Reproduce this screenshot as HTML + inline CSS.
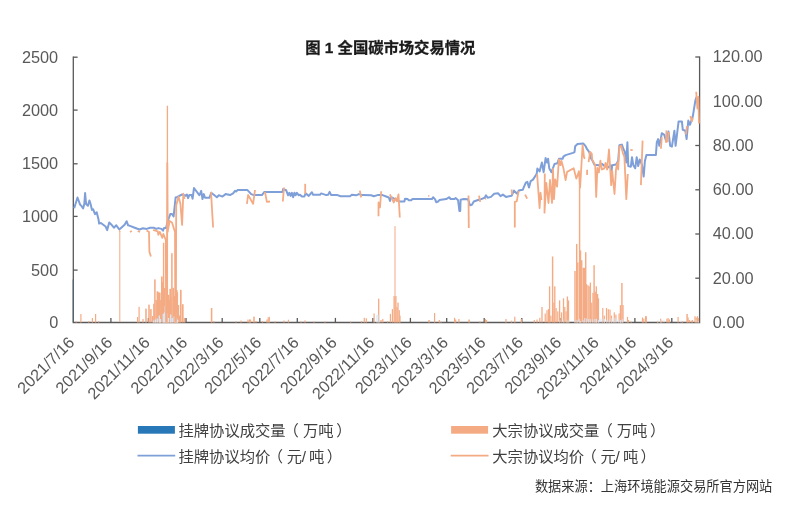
<!DOCTYPE html>
<html lang="zh"><head><meta charset="utf-8"><title>图 1 全国碳市场交易情况</title>
<style>html,body{margin:0;padding:0;background:#fff}body{width:800px;height:506px;overflow:hidden}svg{display:block}text{font-family:"Liberation Sans","Noto Sans CJK SC",sans-serif}</style></head><body>
<svg width="800" height="506" viewBox="0 0 800 506">
<rect width="800" height="506" fill="#fff"/>
<text x="390.3" y="52.6" text-anchor="middle" font-size="15.3" font-weight="bold" fill="#1a1a1a" stroke="#1a1a1a" stroke-width="0.3">图 1 全国碳市场交易情况</text>
<rect x="72.1" y="279.4" width="1.2" height="43" fill="#b4cbe9"/>
<g stroke="#595959" stroke-width="1.3" fill="none">
<path d="M73.3 56.5 V322.5 H699.6 V56.5"/>
<path d="M73.3 270.1 h4.3"/>
<path d="M73.3 216.4 h4.3"/>
<path d="M73.3 163.8 h4.3"/>
<path d="M73.3 110.1 h4.3"/>
<path d="M73.3 57.2 h4.3"/>
<path d="M699.6 278.2 h-4.3"/>
<path d="M699.6 234.0 h-4.3"/>
<path d="M699.6 189.8 h-4.3"/>
<path d="M699.6 145.5 h-4.3"/>
<path d="M699.6 101.2 h-4.3"/>
<path d="M699.6 57.0 h-4.3"/>
<path d="M110.9 322.5 v-4.6"/>
<path d="M148.4 322.5 v-4.6"/>
<path d="M186.0 322.5 v-4.6"/>
<path d="M222.2 322.5 v-4.6"/>
<path d="M259.8 322.5 v-4.6"/>
<path d="M297.3 322.5 v-4.6"/>
<path d="M335.4 322.5 v-4.6"/>
<path d="M372.9 322.5 v-4.6"/>
<path d="M410.4 322.5 v-4.6"/>
<path d="M446.7 322.5 v-4.6"/>
<path d="M484.2 322.5 v-4.6"/>
<path d="M521.8 322.5 v-4.6"/>
<path d="M559.9 322.5 v-4.6"/>
<path d="M597.4 322.5 v-4.6"/>
<path d="M634.9 322.5 v-4.6"/>
<path d="M671.8 322.5 v-4.6"/>
</g>
<g fill="#f4ab84">
<rect x="75.60" y="321.0" width="1.20" height="1.5"/>
<rect x="80.30" y="314.0" width="1.20" height="8.5"/>
<rect x="88.10" y="321.0" width="1.20" height="1.5"/>
<rect x="91.80" y="318.0" width="1.20" height="4.5"/>
<rect x="95.00" y="314.0" width="1.20" height="8.5"/>
<rect x="98.00" y="321.0" width="1.20" height="1.5"/>
<rect x="137.00" y="317.0" width="1.20" height="5.5"/>
<rect x="138.50" y="306.8" width="1.20" height="15.7"/>
<rect x="142.40" y="319.0" width="1.20" height="3.5"/>
<rect x="145.22" y="308.6" width="1.56" height="13.9"/>
<rect x="148.22" y="304.6" width="1.56" height="17.9"/>
<rect x="150.12" y="309.1" width="1.56" height="13.4"/>
<rect x="151.90" y="316.0" width="1.20" height="6.5"/>
<rect x="153.12" y="303.7" width="1.56" height="18.8"/>
<rect x="154.12" y="279.4" width="1.56" height="43.1"/>
<rect x="155.48" y="300.0" width="1.44" height="22.5"/>
<rect x="156.56" y="291.3" width="1.68" height="31.2"/>
<rect x="157.96" y="292.3" width="1.68" height="30.2"/>
<rect x="159.02" y="292.8" width="1.56" height="29.7"/>
<rect x="160.08" y="300.0" width="1.44" height="22.5"/>
<rect x="160.96" y="276.5" width="1.68" height="46.0"/>
<rect x="162.02" y="282.0" width="1.56" height="40.5"/>
<rect x="162.88" y="242.8" width="1.44" height="79.7"/>
<rect x="163.88" y="288.0" width="1.44" height="34.5"/>
<rect x="166.74" y="105.7" width="1.32" height="216.8"/>
<rect x="167.86" y="294.8" width="1.68" height="27.7"/>
<rect x="168.78" y="300.0" width="1.44" height="22.5"/>
<rect x="169.36" y="288.8" width="1.68" height="33.7"/>
<rect x="170.28" y="297.0" width="1.44" height="25.5"/>
<rect x="171.12" y="253.2" width="1.56" height="69.3"/>
<rect x="172.36" y="287.8" width="1.68" height="34.7"/>
<rect x="173.58" y="296.0" width="1.44" height="26.5"/>
<rect x="176.02" y="290.0" width="1.56" height="32.5"/>
<rect x="176.52" y="292.3" width="1.56" height="30.2"/>
<rect x="177.78" y="305.0" width="1.44" height="17.5"/>
<rect x="178.88" y="315.5" width="1.44" height="7.0"/>
<rect x="179.96" y="289.8" width="1.68" height="32.7"/>
<rect x="181.96" y="304.2" width="1.68" height="18.3"/>
<rect x="183.72" y="318.0" width="1.56" height="4.5"/>
<rect x="210.82" y="308.0" width="1.56" height="14.5"/>
<rect x="213.40" y="321.0" width="1.20" height="1.5"/>
<rect x="235.40" y="321.0" width="1.20" height="1.5"/>
<rect x="240.40" y="320.5" width="1.20" height="2.0"/>
<rect x="247.40" y="319.5" width="1.20" height="3.0"/>
<rect x="248.90" y="319.5" width="1.20" height="3.0"/>
<rect x="249.90" y="319.5" width="1.20" height="3.0"/>
<rect x="253.22" y="316.6" width="1.56" height="5.9"/>
<rect x="255.40" y="321.0" width="1.20" height="1.5"/>
<rect x="261.90" y="321.0" width="1.20" height="1.5"/>
<rect x="266.40" y="319.5" width="1.20" height="3.0"/>
<rect x="267.60" y="317.4" width="1.20" height="5.1"/>
<rect x="268.70" y="316.8" width="1.20" height="5.7"/>
<rect x="274.40" y="321.3" width="1.20" height="1.2"/>
<rect x="283.40" y="320.5" width="1.20" height="2.0"/>
<rect x="287.80" y="319.7" width="1.20" height="2.8"/>
<rect x="300.40" y="321.3" width="1.20" height="1.2"/>
<rect x="304.40" y="320.4" width="1.20" height="2.1"/>
<rect x="313.40" y="321.5" width="1.20" height="1.0"/>
<rect x="324.40" y="321.5" width="1.20" height="1.0"/>
<rect x="350.10" y="321.5" width="1.20" height="1.0"/>
<rect x="360.90" y="321.2" width="1.20" height="1.3"/>
<rect x="363.70" y="317.8" width="1.20" height="4.7"/>
<rect x="365.70" y="318.2" width="1.20" height="4.3"/>
<rect x="373.50" y="313.5" width="1.20" height="9.0"/>
<rect x="378.04" y="298.7" width="1.32" height="23.8"/>
<rect x="380.40" y="320.0" width="1.20" height="2.5"/>
<rect x="382.20" y="319.0" width="1.20" height="3.5"/>
<rect x="387.00" y="321.0" width="1.20" height="1.5"/>
<rect x="389.80" y="313.9" width="1.20" height="8.6"/>
<rect x="391.80" y="309.1" width="1.20" height="13.4"/>
<rect x="393.44" y="296.1" width="1.32" height="26.4"/>
<rect x="394.49" y="226.1" width="1.02" height="96.4"/>
<rect x="395.24" y="296.1" width="1.32" height="26.4"/>
<rect x="396.40" y="307.0" width="1.20" height="15.5"/>
<rect x="397.34" y="302.6" width="1.32" height="19.9"/>
<rect x="398.70" y="310.2" width="1.20" height="12.3"/>
<rect x="399.40" y="315.6" width="1.20" height="6.9"/>
<rect x="428.28" y="320.0" width="1.44" height="2.5"/>
<rect x="434.00" y="313.0" width="1.20" height="9.5"/>
<rect x="438.70" y="320.0" width="1.20" height="2.5"/>
<rect x="440.40" y="321.5" width="1.20" height="1.0"/>
<rect x="454.00" y="317.8" width="1.20" height="4.7"/>
<rect x="455.10" y="319.5" width="1.20" height="3.0"/>
<rect x="458.30" y="319.0" width="1.20" height="3.5"/>
<rect x="468.38" y="319.5" width="1.44" height="3.0"/>
<rect x="479.40" y="321.3" width="1.20" height="1.2"/>
<rect x="484.80" y="319.0" width="1.20" height="3.5"/>
<rect x="485.90" y="320.0" width="1.20" height="2.5"/>
<rect x="505.40" y="319.0" width="1.20" height="3.5"/>
<rect x="510.90" y="320.7" width="1.20" height="1.8"/>
<rect x="514.20" y="316.7" width="1.20" height="5.8"/>
<rect x="520.70" y="319.0" width="1.20" height="3.5"/>
<rect x="533.70" y="320.0" width="1.20" height="2.5"/>
<rect x="536.40" y="319.5" width="1.20" height="3.0"/>
<rect x="539.20" y="317.8" width="1.20" height="4.7"/>
<rect x="541.34" y="307.0" width="1.32" height="15.5"/>
<rect x="544.60" y="313.5" width="1.20" height="9.0"/>
<rect x="546.40" y="310.2" width="1.20" height="12.3"/>
<rect x="547.90" y="309.1" width="1.20" height="13.4"/>
<rect x="548.94" y="286.3" width="1.32" height="36.2"/>
<rect x="550.30" y="315.6" width="1.20" height="6.9"/>
<rect x="551.88" y="256.5" width="1.44" height="66.0"/>
<rect x="553.30" y="302.6" width="1.20" height="19.9"/>
<rect x="554.14" y="286.3" width="1.32" height="36.2"/>
<rect x="555.50" y="308.0" width="1.20" height="14.5"/>
<rect x="557.20" y="311.3" width="1.20" height="11.2"/>
<rect x="558.94" y="300.4" width="1.32" height="22.1"/>
<rect x="560.90" y="312.4" width="1.20" height="10.1"/>
<rect x="562.84" y="298.3" width="1.32" height="24.2"/>
<rect x="564.20" y="307.0" width="1.20" height="15.5"/>
<rect x="565.50" y="311.3" width="1.20" height="11.2"/>
<rect x="566.74" y="296.5" width="1.32" height="26.0"/>
<rect x="567.84" y="300.4" width="1.32" height="22.1"/>
<rect x="574.28" y="271.0" width="1.44" height="51.5"/>
<rect x="575.98" y="243.9" width="1.44" height="78.6"/>
<rect x="577.08" y="262.4" width="1.44" height="60.1"/>
<rect x="578.88" y="180.0" width="1.44" height="142.5"/>
<rect x="579.78" y="250.4" width="1.44" height="72.1"/>
<rect x="580.98" y="260.2" width="1.44" height="62.3"/>
<rect x="582.58" y="267.8" width="1.44" height="54.7"/>
<rect x="583.58" y="267.8" width="1.44" height="54.7"/>
<rect x="584.98" y="252.2" width="1.44" height="70.3"/>
<rect x="585.84" y="284.1" width="1.32" height="38.4"/>
<rect x="587.34" y="285.2" width="1.32" height="37.3"/>
<rect x="588.44" y="286.3" width="1.32" height="36.2"/>
<rect x="589.74" y="282.6" width="1.32" height="39.9"/>
<rect x="591.10" y="302.6" width="1.20" height="19.9"/>
<rect x="592.34" y="292.8" width="1.32" height="29.7"/>
<rect x="593.38" y="265.2" width="1.44" height="57.3"/>
<rect x="594.54" y="291.7" width="1.32" height="30.8"/>
<rect x="595.64" y="286.3" width="1.32" height="36.2"/>
<rect x="596.94" y="294.0" width="1.32" height="28.5"/>
<rect x="597.90" y="298.3" width="1.20" height="24.2"/>
<rect x="602.20" y="308.0" width="1.20" height="14.5"/>
<rect x="603.70" y="315.6" width="1.20" height="6.9"/>
<rect x="605.90" y="308.0" width="1.20" height="14.5"/>
<rect x="607.70" y="309.1" width="1.20" height="13.4"/>
<rect x="609.40" y="309.6" width="1.20" height="12.9"/>
<rect x="610.90" y="315.6" width="1.20" height="6.9"/>
<rect x="613.70" y="312.4" width="1.20" height="10.1"/>
<rect x="615.30" y="314.6" width="1.20" height="7.9"/>
<rect x="618.50" y="313.5" width="1.20" height="9.0"/>
<rect x="619.74" y="305.2" width="1.32" height="17.3"/>
<rect x="621.18" y="283.0" width="1.44" height="39.5"/>
<rect x="622.34" y="305.0" width="1.32" height="17.5"/>
<rect x="626.90" y="316.9" width="1.20" height="5.6"/>
<rect x="627.90" y="320.0" width="1.20" height="2.5"/>
<rect x="630.60" y="321.5" width="1.20" height="1.0"/>
<rect x="641.90" y="317.5" width="1.20" height="5.0"/>
<rect x="643.20" y="318.7" width="1.20" height="3.8"/>
<rect x="645.00" y="316.2" width="1.20" height="6.3"/>
<rect x="645.70" y="316.2" width="1.20" height="6.3"/>
<rect x="656.90" y="321.2" width="1.20" height="1.3"/>
<rect x="660.00" y="318.7" width="1.20" height="3.8"/>
<rect x="661.30" y="320.6" width="1.20" height="1.9"/>
<rect x="666.30" y="318.7" width="1.20" height="3.8"/>
<rect x="667.50" y="318.1" width="1.20" height="4.4"/>
<rect x="668.80" y="319.4" width="1.20" height="3.1"/>
<rect x="677.50" y="316.9" width="1.20" height="5.6"/>
<rect x="681.90" y="321.2" width="1.20" height="1.3"/>
<rect x="686.38" y="314.0" width="1.44" height="8.5"/>
<rect x="687.50" y="317.5" width="1.20" height="5.0"/>
<rect x="688.80" y="320.0" width="1.20" height="2.5"/>
<rect x="690.60" y="320.6" width="1.20" height="1.9"/>
<rect x="691.90" y="320.0" width="1.20" height="2.5"/>
<rect x="694.40" y="316.2" width="1.20" height="6.3"/>
<rect x="695.60" y="317.5" width="1.20" height="5.0"/>
<rect x="696.90" y="316.2" width="1.20" height="6.3"/>
<rect x="697.90" y="318.1" width="1.20" height="4.4"/>
</g>
<g fill="#d9e7f5">
<rect x="152.95" y="320.5" width="1.3" height="2.0" opacity="1.00"/>
<rect x="154.85" y="319.5" width="1.3" height="3.0" opacity="1.00"/>
<rect x="156.65" y="318.5" width="1.3" height="4.0" opacity="1.00"/>
<rect x="158.65" y="315.5" width="1.3" height="7.0" opacity="1.00"/>
<rect x="159.85" y="319.0" width="1.3" height="3.5" opacity="1.00"/>
<rect x="162.65" y="314.0" width="1.3" height="8.5" opacity="1.00"/>
<rect x="163.65" y="312.5" width="1.3" height="10.0" opacity="1.00"/>
<rect x="164.65" y="306.0" width="1.3" height="16.5" opacity="1.00"/>
<rect x="165.65" y="313.5" width="1.3" height="9.0" opacity="1.00"/>
<rect x="166.65" y="313.5" width="1.3" height="9.0" opacity="1.00"/>
<rect x="167.85" y="318.0" width="1.3" height="4.5" opacity="1.00"/>
<rect x="170.05" y="314.5" width="1.3" height="8.0" opacity="1.00"/>
<rect x="171.65" y="318.0" width="1.3" height="4.5" opacity="1.00"/>
<rect x="173.55" y="316.5" width="1.3" height="6.0" opacity="1.00"/>
<rect x="175.05" y="311.6" width="1.3" height="10.9" opacity="1.00"/>
<rect x="176.15" y="318.5" width="1.3" height="4.0" opacity="1.00"/>
<rect x="176.95" y="320.0" width="1.3" height="2.5" opacity="1.00"/>
<rect x="376.20" y="314.6" width="1.0" height="7.9" opacity="0.80"/>
<rect x="377.30" y="314.6" width="1.0" height="7.9" opacity="0.80"/>
<rect x="378.70" y="314.6" width="1.0" height="7.9" opacity="0.80"/>
<rect x="574.45" y="320.3" width="1.1" height="2.2" opacity="0.90"/>
<rect x="576.50" y="319.9" width="1.1" height="2.6" opacity="0.90"/>
<rect x="578.63" y="319.1" width="1.1" height="3.4" opacity="0.90"/>
<rect x="580.11" y="321.0" width="1.1" height="1.5" opacity="0.90"/>
<rect x="582.51" y="320.2" width="1.1" height="2.3" opacity="0.90"/>
<rect x="584.19" y="318.0" width="1.1" height="4.5" opacity="0.90"/>
<rect x="586.16" y="318.5" width="1.1" height="4.0" opacity="0.90"/>
<rect x="588.13" y="319.1" width="1.1" height="3.4" opacity="0.90"/>
<rect x="589.71" y="319.1" width="1.1" height="3.4" opacity="0.90"/>
<rect x="592.15" y="319.4" width="1.1" height="3.1" opacity="0.90"/>
<rect x="594.44" y="319.0" width="1.1" height="3.5" opacity="0.90"/>
<rect x="595.92" y="318.7" width="1.1" height="3.8" opacity="0.90"/>
<rect x="598.03" y="320.1" width="1.1" height="2.4" opacity="0.90"/>
<rect x="599.46" y="318.4" width="1.1" height="4.1" opacity="0.90"/>
<rect x="601.43" y="318.8" width="1.1" height="3.7" opacity="0.90"/>
<rect x="603.89" y="318.9" width="1.1" height="3.6" opacity="0.90"/>
<rect x="606.39" y="319.8" width="1.1" height="2.7" opacity="0.90"/>
<rect x="608.75" y="319.7" width="1.1" height="2.8" opacity="0.90"/>
<rect x="611.27" y="318.4" width="1.1" height="4.1" opacity="0.90"/>
<rect x="612.79" y="320.6" width="1.1" height="1.9" opacity="0.90"/>
<rect x="614.45" y="318.1" width="1.1" height="4.4" opacity="0.90"/>
<rect x="616.38" y="319.1" width="1.1" height="3.4" opacity="0.90"/>
<rect x="618.14" y="319.5" width="1.1" height="3.0" opacity="0.90"/>
<rect x="620.00" y="319.9" width="1.1" height="2.6" opacity="0.90"/>
<rect x="622.10" y="319.2" width="1.1" height="3.3" opacity="0.90"/>
<rect x="559.50" y="320.1" width="1.0" height="2.4" opacity="0.70"/>
<rect x="562.50" y="319.6" width="1.0" height="2.9" opacity="0.70"/>
<rect x="566.50" y="319.8" width="1.0" height="2.7" opacity="0.70"/>
<rect x="568.50" y="319.5" width="1.0" height="3.0" opacity="0.70"/>
<rect x="620.50" y="320.2" width="1.0" height="2.3" opacity="0.70"/>
<rect x="625.50" y="321.2" width="1.0" height="1.3" opacity="0.70"/>
<rect x="657.50" y="319.8" width="1.0" height="2.7" opacity="0.70"/>
<rect x="660.50" y="319.6" width="1.0" height="2.9" opacity="0.70"/>
<rect x="663.50" y="319.7" width="1.0" height="2.8" opacity="0.70"/>
<rect x="680.50" y="320.4" width="1.0" height="2.1" opacity="0.70"/>
<rect x="695.50" y="320.1" width="1.0" height="2.4" opacity="0.70"/>
<rect x="697.80" y="321.1" width="1.0" height="1.4" opacity="0.70"/>
</g>
<polyline fill="none" stroke="#7f9fd9" stroke-width="2" stroke-linejoin="round" transform="translate(0,0.3)" points="74.2,207.9 77.5,197.2 80.1,204.3 81.3,205.5 83.1,208.2 84.3,203.7 85.1,192.8 86.1,203.7 87.9,205.5 89.4,200.1 90.6,203.7 92.0,209.6 93.2,209.0 95.0,213.8 96.7,212.0 98.5,219.1 99.1,223.3 100.9,222.7 105.6,226.2 107.2,229.8 109.2,222.1 111.0,223.9 113.9,227.4 116.3,225.0 119.3,229.2 124.6,224.4 126.6,220.9 128.1,225.0 130.0,225.6 134.7,227.4 139.5,229.2 143.0,228.0 146.6,228.6 150.1,227.4 153.7,227.4 156.1,228.6 158.4,227.8 161.4,228.6 163.0,230.4 163.8,228.0 166.1,227.4 167.9,220.3 170.3,213.8 172.1,213.8 173.6,216.1 175.6,197.2 177.4,196.6 182.1,194.2 185.7,195.4 186.9,194.2 188.1,197.8 189.3,194.8 191.6,194.8 192.6,198.4 194.0,187.7 199.3,194.8 200.0,193.8 201.2,190.6 202.5,198.8 203.8,193.8 205.0,197.5 209.4,197.5 211.2,192.5 213.8,194.4 216.9,196.9 218.8,195.0 220.6,195.6 222.5,196.2 225.6,193.8 230.0,194.8 233.1,193.1 235.0,190.6 236.2,191.2 237.5,189.8 247.5,189.8 251.2,193.8 253.8,194.8 261.9,194.8 264.4,191.6 282.5,191.6 283.1,188.8 286.2,190.0 288.1,195.0 289.4,192.5 290.6,195.6 291.9,192.5 293.1,196.9 294.4,192.5 295.6,195.0 296.9,192.5 298.8,195.0 300.0,194.4 301.9,196.2 304.4,196.2 305.6,193.1 308.8,195.6 311.9,191.9 313.1,194.4 320.0,194.4 321.2,193.1 326.2,194.8 328.1,194.4 329.6,191.6 331.2,194.8 337.5,194.8 340.6,196.0 350.0,196.0 351.9,194.4 356.2,195.0 358.8,193.8 362.5,194.8 371.2,195.0 373.8,195.9 377.5,194.8 382.5,194.8 386.2,196.2 388.8,197.2 390.0,200.6 391.2,196.9 395.0,198.8 399.4,201.2 404.4,201.2 405.0,198.5 407.5,198.8 408.8,200.0 411.2,200.0 412.5,198.8 431.9,198.8 433.1,196.9 435.0,198.8 436.2,201.9 438.1,201.2 439.4,199.8 446.2,198.8 449.4,196.9 450.6,198.8 454.4,198.8 455.6,197.8 458.1,200.0 459.4,210.6 460.2,210.6 460.6,199.4 463.8,198.8 468.1,199.0 470.0,205.0 471.9,204.4 473.8,201.2 478.8,199.4 481.2,198.8 484.7,197.4 486.0,195.0 487.6,197.4 491.0,196.6 494.2,193.5 498.2,193.0 500.5,195.8 502.9,194.3 506.0,196.6 511.6,195.4 514.0,190.3 515.6,191.9 517.2,193.5 518.7,190.3 522.7,189.5 525.8,182.4 527.4,181.6 529.0,187.2 530.7,180.8 533.0,179.3 536.7,173.4 537.4,168.2 539.6,171.1 541.9,162.2 543.6,171.9 545.6,157.8 547.0,162.2 548.1,158.5 549.3,168.2 551.5,171.9 554.5,163.7 557.4,163.0 558.9,158.5 562.6,158.5 563.4,156.3 565.6,154.8 573.0,152.6 574.5,151.9 575.2,145.9 577.5,143.7 583.4,143.3 585.6,145.9 587.1,148.9 589.3,151.9 590.8,157.8 592.3,160.0 594.5,164.5 598.9,165.0 601.9,163.6 604.8,165.8 607.8,167.3 610.8,165.0 611.5,171.0 612.2,165.0 616.0,164.3 618.2,160.6 619.4,145.0 621.9,144.3 623.4,148.7 624.9,151.7 626.3,162.1 627.4,142.0 628.3,165.8 630.8,166.5 632.0,156.9 633.3,165.0 635.2,168.0 636.7,156.9 638.2,165.8 639.7,159.1 641.9,164.3 643.7,176.2 644.9,160.6 646.4,154.7 655.9,154.7 656.8,142.1 658.1,138.8 659.3,145.5 660.9,137.9 661.8,132.9 664.3,134.6 666.0,140.4 668.5,131.2 670.2,145.5 671.9,146.3 674.4,130.4 675.6,145.5 678.6,121.1 681.9,121.1 682.8,129.5 685.3,130.4 686.6,138.8 688.3,120.3 690.0,124.5 692.8,116.1 695.4,100.1 696.6,96.5"/>
<g fill="none" stroke="#f4ab84" stroke-width="1.8" stroke-linejoin="round" stroke-linecap="butt">
<polyline points="119.2,231.5 120.2,230.8"/>
<polyline points="119.8,231.5 119.8,322.0" stroke-width="1"/>
<polyline points="130.0,232.0 131.8,231.0"/>
<polyline points="137.7,231.0 140.0,232.0"/>
<polyline points="146.6,230.4 149.0,232.0 149.4,251.7 150.9,256.6"/>
<polyline points="153.1,229.8 157.8,231.4 158.3,234.9 159.8,231.9 162.3,237.8 163.3,233.9 165.8,239.8 166.1,322.3 166.8,322.3 167.3,163.0 167.7,232.0 168.0,229.8 169.7,220.9 172.1,222.7 175.0,232.0 175.3,322.3 175.9,322.3 176.2,205.5 178.6,196.6 180.4,203.7 182.1,225.0 183.3,193.6 184.5,199.0"/>
<polyline points="211.0,191.9 213.1,227.5"/>
<polyline points="246.9,203.8 248.1,195.0 253.1,203.8 255.0,190.0"/>
<polyline points="265.0,191.9 266.9,201.9 270.0,201.5"/>
<polyline points="284.0,187.5 282.8,201.5"/>
<polyline points="305.2,183.8 305.2,193.8"/>
<polyline points="359.8,190.6 361.2,197.5"/>
<polyline points="378.5,216.2 378.5,202.5 380.0,207.5 381.2,191.2"/>
<polyline points="389.8,194.4 391.2,196.9 393.8,202.5 395.6,198.1 396.9,201.2 398.5,194.4 399.8,217.5"/>
<polyline points="428.2,195.9 429.3,195.9"/>
<polyline points="468.5,195.6 468.8,228.1"/>
<polyline points="479.0,195.6 480.2,201.9"/>
<polyline points="485.1,199.0 486.1,198.7"/>
<polyline points="511.6,189.5 512.1,194.7"/>
<polyline points="518.7,191.1 516.7,201.4 514.8,201.9 514.8,227.5"/>
<polyline points="525.1,194.6 527.1,198.7"/>
<polyline points="537.1,174.1 539.6,208.2 540.5,192.6 541.4,200.0"/>
<polyline points="544.8,173.4 544.5,212.7 546.3,183.0 548.5,203.0 550.0,180.0 552.0,203.0 553.0,169.0 554.0,199.3 555.2,179.3 557.1,186.7 558.9,159.3 560.4,165.2 561.4,160.8 563.4,168.2 565.6,180.0 567.1,171.9 573.7,168.2 576.3,178.6 577.8,174.9 578.9,171.1 580.1,187.5 582.6,145.2 584.1,157.8 585.2,158.5"/>
<polyline points="587.1,174.9 587.1,169.7"/>
<polyline points="588.6,162.2 590.1,151.9 591.8,153.9 592.2,159.9 595.2,165.0 596.2,196.9 597.4,168.0 598.9,172.5 600.4,160.6 601.9,169.5 604.1,168.7 605.6,162.8 607.1,169.5 609.0,149.5 611.2,185.1 612.2,171.0 614.5,194.0 616.0,169.5 617.4,162.8 618.2,169.5 619.4,146.5 621.1,145.8 622.9,153.2 624.4,156.9 626.3,199.2 627.8,174.0"/>
<polyline points="630.3,150.0 632.7,150.0"/>
<polyline points="642.6,140.6 640.9,185.1"/>
<polyline points="661.8,137.1 660.9,148.8"/>
<polyline points="666.5,130.4 666.0,142.1 667.7,141.3 668.8,132.0"/>
<polyline points="687.0,126.2 685.8,134.6"/>
<polyline points="690.3,116.1 692.0,121.1 692.8,117.8"/>
<polyline points="696.2,91.8 697.4,108.5 698.4,96.8 699.0,123.6"/>
</g>
<g font-size="16.3" fill="#595959">
<text x="58.2" y="328.0" text-anchor="end">0</text>
<text x="58.2" y="275.5" text-anchor="end">500</text>
<text x="58.2" y="221.8" text-anchor="end">1000</text>
<text x="58.2" y="169.2" text-anchor="end">1500</text>
<text x="58.2" y="115.5" text-anchor="end">2000</text>
<text x="58.2" y="62.6" text-anchor="end">2500</text>
<text x="712.8" y="327.9">0.00</text>
<text x="712.8" y="283.6">20.00</text>
<text x="712.8" y="239.4">40.00</text>
<text x="712.8" y="195.2">60.00</text>
<text x="712.8" y="150.9">80.00</text>
<text x="712.8" y="106.7">100.00</text>
<text x="712.8" y="62.4">120.00</text>
<text text-anchor="end" transform="translate(75.3,343.5) rotate(-45)">2021/7/16</text>
<text text-anchor="end" transform="translate(113.4,343.5) rotate(-45)">2021/9/16</text>
<text text-anchor="end" transform="translate(150.9,343.5) rotate(-45)">2021/11/16</text>
<text text-anchor="end" transform="translate(188.5,343.5) rotate(-45)">2022/1/16</text>
<text text-anchor="end" transform="translate(224.7,343.5) rotate(-45)">2022/3/16</text>
<text text-anchor="end" transform="translate(262.3,343.5) rotate(-45)">2022/5/16</text>
<text text-anchor="end" transform="translate(299.8,343.5) rotate(-45)">2022/7/16</text>
<text text-anchor="end" transform="translate(337.9,343.5) rotate(-45)">2022/9/16</text>
<text text-anchor="end" transform="translate(375.4,343.5) rotate(-45)">2022/11/16</text>
<text text-anchor="end" transform="translate(412.9,343.5) rotate(-45)">2023/1/16</text>
<text text-anchor="end" transform="translate(449.2,343.5) rotate(-45)">2023/3/16</text>
<text text-anchor="end" transform="translate(486.7,343.5) rotate(-45)">2023/5/16</text>
<text text-anchor="end" transform="translate(524.2,343.5) rotate(-45)">2023/7/16</text>
<text text-anchor="end" transform="translate(562.4,343.5) rotate(-45)">2023/9/16</text>
<text text-anchor="end" transform="translate(599.9,343.5) rotate(-45)">2023/11/16</text>
<text text-anchor="end" transform="translate(637.4,343.5) rotate(-45)">2024/1/16</text>
<text text-anchor="end" transform="translate(674.3,343.5) rotate(-45)">2024/3/16</text>
</g>
<rect x="137.9" y="426" width="37" height="7.7" fill="#2878b8"/>
<rect x="451.1" y="426" width="37" height="7.7" fill="#f4ab84"/>
<path d="M137.5 455.7 H175.2" stroke="#7f9fd9" stroke-width="1.7"/>
<path d="M450.7 455.7 H488.5" stroke="#f4ab84" stroke-width="1.7"/>
<g font-size="15.3" fill="#404040">
<text y="436.4"><tspan x="178.5">挂牌协议成交量</tspan><tspan x="283.6">（</tspan><tspan x="303">万吨</tspan><tspan x="336.2">）</tspan></text>
<text y="462.4"><tspan x="178.5">挂牌协议均价</tspan><tspan x="267.7">（</tspan><tspan x="286.7">元</tspan><tspan x="301.7">/</tspan><tspan x="309.1">吨</tspan><tspan x="326.7">）</tspan></text>
<text y="436.4"><tspan x="492.3">大宗协议成交量</tspan><tspan x="597.4">（</tspan><tspan x="616.8">万吨</tspan><tspan x="650">）</tspan></text>
<text y="462.4"><tspan x="492.3">大宗协议均价</tspan><tspan x="581.5">（</tspan><tspan x="600.5">元</tspan><tspan x="615.5">/</tspan><tspan x="622.9">吨</tspan><tspan x="640.5">）</tspan></text>
</g>
<text x="772.3" y="490.5" text-anchor="end" font-size="13.2" fill="#333">数据来源：上海环境能源交易所官方网站</text>
</svg></body></html>
